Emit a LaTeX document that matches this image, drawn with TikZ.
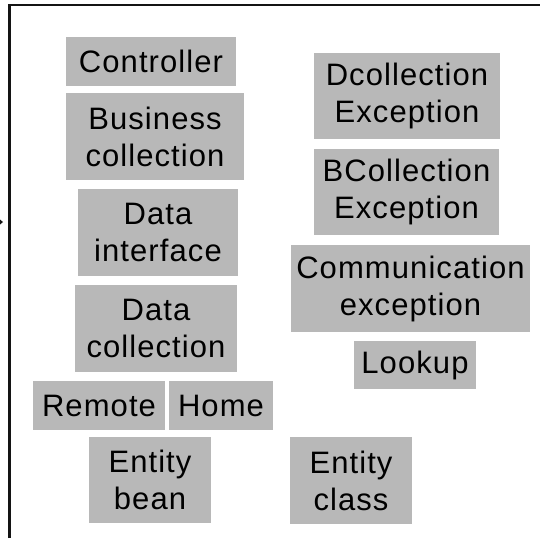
\documentclass[tikz,border=0pt]{standalone}
\usepackage{fontspec}
\setmainfont{Liberation Sans}[LetterSpace=3.5]
\definecolor{boxgray}{RGB}{184,184,184}
\definecolor{framec}{RGB}{20,20,20}
\tikzset{
  box/.style={fill=boxgray, draw=none, inner sep=0pt, align=center,
    font=\fontsize{31}{37}\selectfont, text=black},
  frameline/.style={draw=framec, line width=2.4pt}
}
\begin{document}
\begin{tikzpicture}[x=1pt, y=-1pt]
\useasboundingbox (0,0) rectangle (540,538);
% outer frame: left and top edges
\coordinate (fl) at (9.5,538);
\coordinate (ftl) at (9.5,5);
\coordinate (ftr) at (540,5);
\draw[frameline] (fl) -- (ftl) -- (ftr);
% small mark on the left margin
\fill[framec] (0,219.5) -- (3,222) -- (0,224.5) -- cycle;

% left column
\node[box, minimum width=170pt, minimum height=49pt] (ctrl) at (151,61.5) {Controller};
\node[box, minimum width=178pt, minimum height=87pt] (bus) at (155,136.5) {Business\\collection};
\node[box, minimum width=160pt, minimum height=87pt] (dif) at (158,232.5) {Data\\interface};
\node[box, minimum width=162pt, minimum height=87pt] (dcol) at (156,328.5) {Data\\collection};
\node[box, minimum width=132pt, minimum height=49pt] (rem) at (99,405.5) {Remote};
\node[box, minimum width=104pt, minimum height=49pt] (home) at (221,405.5) {Home};
\node[box, minimum width=122pt, minimum height=86pt] (ebean) at (150,480) {Entity\\bean};

% right column
\node[box, minimum width=186pt, minimum height=86pt] (dexc) at (407,96) {Dcollection\\Exception};
\node[box, minimum width=185pt, minimum height=86pt] (bexc) at (406.5,192) {BCollection\\Exception};
\node[box, minimum width=239pt, minimum height=87pt] (cexc) at (410.5,288.5) {Communication\\exception};
\node[box, minimum width=122pt, minimum height=48pt] (look) at (415,365) {Lookup};
\node[box, minimum width=122pt, minimum height=87pt] (eclass) at (351,480.5) {Entity\\class};
\end{tikzpicture}
\end{document}
